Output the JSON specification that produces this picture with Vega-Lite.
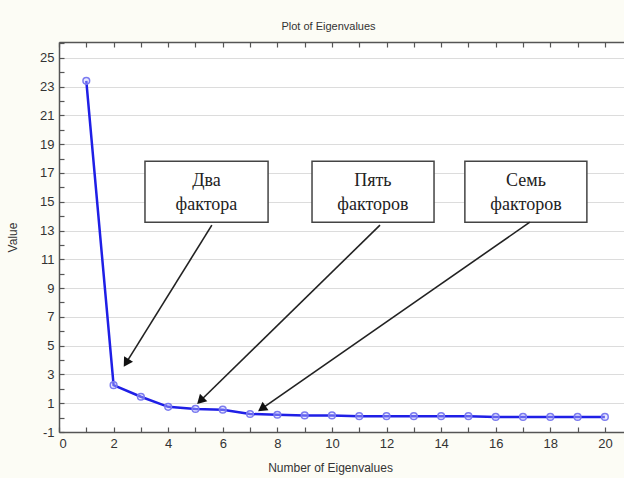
{
  "$schema": "https://vega.github.io/schema/vega-lite/v6.json",
  "autosize": {"type": "none"},
  "padding": {"left": 59, "top": 42, "right": 0, "bottom": 46},
  "width": 565,
  "height": 390,
  "background": "#fcfcf5",
  "title": {"text": "Plot of Eigenvalues", "fontSize": 11, "font": "Liberation Sans", "fontWeight": "normal", "color": "#333333", "anchor": "middle", "dx": -13, "offset": 5},
  "config": {
    "view": {"fill": "white", "stroke": null},
    "axis": {"labelFont": "Liberation Sans", "titleFont": "Liberation Sans", "labelColor": "#333333", "titleColor": "#333333", "domainColor": "#555555", "tickColor": "#555555", "labelFontSize": 13, "titleFontSize": 12, "titleFontWeight": "normal", "labelOverlap": false}
  },
  "resolve": {"axis": {"x": "independent"}},
  "datasets": {
    "eig": [
      {"n": 1, "v": 23.4}, {"n": 2, "v": 2.25}, {"n": 3, "v": 1.45}, {"n": 4, "v": 0.75},
      {"n": 5, "v": 0.6}, {"n": 6, "v": 0.55}, {"n": 7, "v": 0.25}, {"n": 8, "v": 0.2},
      {"n": 9, "v": 0.15}, {"n": 10, "v": 0.15}, {"n": 11, "v": 0.1}, {"n": 12, "v": 0.1},
      {"n": 13, "v": 0.1}, {"n": 14, "v": 0.1}, {"n": 15, "v": 0.1}, {"n": 16, "v": 0.05},
      {"n": 17, "v": 0.05}, {"n": 18, "v": 0.05}, {"n": 19, "v": 0.05}, {"n": 20, "v": 0.05}
    ],
    "boxes": [
      {"id": 1, "x": 3.15, "x2": 7.66, "y": 17.82, "y2": 13.58, "tx": 5.4, "ty": 16.43, "label": "Два\nфактора"},
      {"id": 2, "x": 9.27, "x2": 13.74, "y": 17.82, "y2": 13.58, "tx": 11.5, "ty": 16.43, "label": "Пять\nфакторов"},
      {"id": 3, "x": 14.87, "x2": 19.34, "y": 17.82, "y2": 13.58, "tx": 17.11, "ty": 16.43, "label": "Семь\nфакторов"}
    ],
    "arrows": [
      {"id": 1, "x": 5.6, "y": 13.375, "x2": 2.46, "y2": 3.8},
      {"id": 2, "x": 11.76, "y": 13.375, "x2": 5.18, "y2": 1.17},
      {"id": 3, "x": 17.25, "y": 13.58, "x2": 7.43, "y2": 0.625}
    ]
  },
  "layer": [
    {
      "data": {"name": "eig"},
      "mark": {"type": "line", "color": "#1f1fe6", "strokeWidth": 2.5},
      "encoding": {
        "x": {"field": "n", "type": "quantitative", "scale": {"domain": [0, 20.7], "nice": false, "zero": false},
          "axis": {"orient": "bottom", "title": "Number of Eigenvalues", "titleY": 35, "titleX": 271, "titleBaseline": "middle", "values": [0,1,2,3,4,5,6,7,8,9,10,11,12,13,14,15,16,17,18,19,20], "tickCount": 100, "labelExpr": "datum.value % 2 == 0 ? toString(datum.value) : ''", "labelOverlap": false, "tickSize": -5, "tickWidth": 1.2, "labelPadding": 10, "grid": false, "domainWidth": 1.5}},
        "y": {"field": "v", "type": "quantitative", "scale": {"domain": [-1, 26.1], "nice": false, "zero": false},
          "axis": {"title": "Value", "titleX": -40, "values": [-1,0,1,2,3,4,5,6,7,8,9,10,11,12,13,14,15,16,17,18,19,20,21,22,23,24,25,26], "tickCount": 100, "labelExpr": "abs(datum.value % 2) == 1 ? toString(datum.value) : ''", "labelOverlap": false, "tickSize": -5, "tickWidth": 1.2, "labelPadding": 10, "grid": true, "gridColor": "#dcdcdc", "gridOpacity": {"condition": {"test": "abs(datum.value % 2) == 1", "value": 1}, "value": 0}, "domainWidth": 1.5}}
      }
    },
    {
      "data": {"name": "eig"},
      "mark": {"type": "point", "shape": "circle", "size": 45, "stroke": "#7b7bf0", "strokeWidth": 1.5, "fill": "#c8c8ff", "fillOpacity": 0.4},
      "encoding": {
        "x": {"field": "n", "type": "quantitative", "axis": {"orient": "top", "title": null, "values": [0,1,2,3,4,5,6,7,8,9,10,11,12,13,14,15,16,17,18,19,20], "tickCount": 100, "labels": false, "tickSize": -5, "tickWidth": 1.2, "grid": false, "domainWidth": 1.5}},
        "y": {"field": "v", "type": "quantitative"}
      }
    },
    {
      "data": {"name": "boxes"},
      "mark": {"type": "rect", "fill": "white", "stroke": "#444444", "strokeWidth": 1.5},
      "encoding": {
        "x": {"field": "x", "type": "quantitative", "axis": null}, "x2": {"field": "x2"},
        "y": {"field": "y", "type": "quantitative"}, "y2": {"field": "y2"}
      }
    },
    {
      "data": {"name": "boxes"},
      "mark": {"type": "text", "font": "Liberation Serif", "fontSize": 18, "color": "#222222", "lineBreak": "\n", "lineHeight": 24, "baseline": "middle", "align": "center"},
      "encoding": {
        "x": {"field": "tx", "type": "quantitative", "axis": null},
        "y": {"field": "ty", "type": "quantitative"},
        "text": {"field": "label"}
      }
    },
    {
      "data": {"name": "arrows"},
      "mark": {"type": "rule", "color": "#222222", "strokeWidth": 1.6},
      "encoding": {
        "x": {"field": "x", "type": "quantitative", "axis": null}, "x2": {"field": "x2"},
        "y": {"field": "y", "type": "quantitative"}, "y2": {"field": "y2"}
      }
    },
    {
      "data": {"name": "arrows"},
      "transform": [{"filter": "datum.id == 1"}],
      "mark": {"type": "point", "shape": "triangle-up", "filled": true, "color": "#111111", "opacity": 1, "size": 110, "angle": 211.9},
      "encoding": {"x": {"field": "x2", "type": "quantitative", "axis": null}, "y": {"field": "y2", "type": "quantitative"}}
    },
    {
      "data": {"name": "arrows"},
      "transform": [{"filter": "datum.id == 2"}],
      "mark": {"type": "point", "shape": "triangle-up", "filled": true, "color": "#111111", "opacity": 1, "size": 110, "angle": 225.6},
      "encoding": {"x": {"field": "x2", "type": "quantitative", "axis": null}, "y": {"field": "y2", "type": "quantitative"}}
    },
    {
      "data": {"name": "arrows"},
      "transform": [{"filter": "datum.id == 3"}],
      "mark": {"type": "point", "shape": "triangle-up", "filled": true, "color": "#111111", "opacity": 1, "size": 110, "angle": 235.2},
      "encoding": {"x": {"field": "x2", "type": "quantitative", "axis": null}, "y": {"field": "y2", "type": "quantitative"}}
    }
  ]
}
